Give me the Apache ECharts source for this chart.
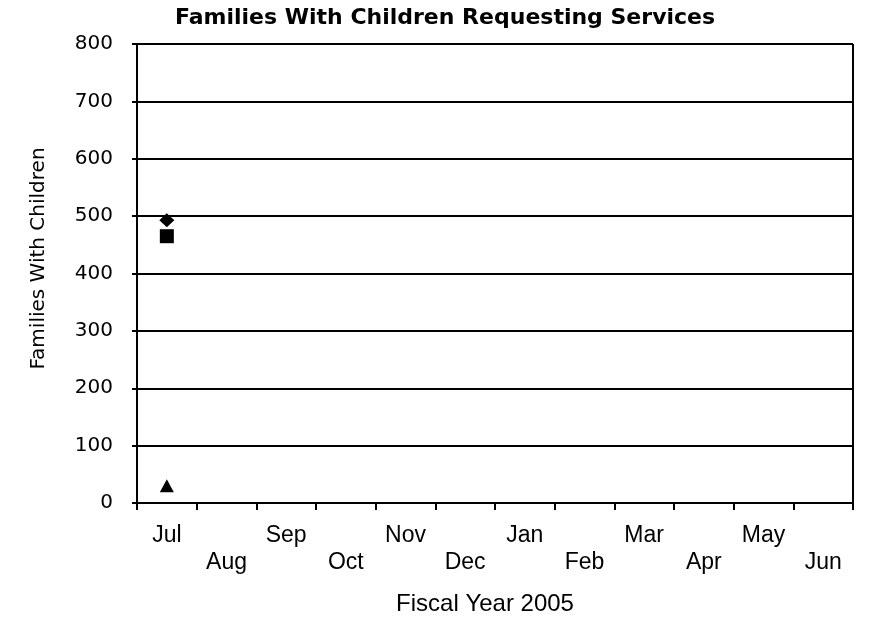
<!DOCTYPE html>
<html>
<head>
<meta charset="utf-8">
<script src="https://cdn.jsdelivr.net/npm/echarts@6/dist/echarts.min.js"></script>
<style>
  html, body { margin: 0; padding: 0; background: #fff; }
  #chart { width: 880px; height: 624px; }
</style>
</head>
<body>
<div id="chart"></div>
<script>
// Months of the fiscal year
const months = ['Jul', 'Aug', 'Sep', 'Oct', 'Nov', 'Dec', 'Jan', 'Feb', 'Mar', 'Apr', 'May', 'Jun'];
// Monthly counts per series (only July reported so far)
const diamondSeries = [493, null, null, null, null, null, null, null, null, null, null, null];
const squareSeries = [465, null, null, null, null, null, null, null, null, null, null, null];
const triangleSeries = [30, null, null, null, null, null, null, null, null, null, null, null];
// Y axis range
const yMin = 0, yMax = 800, yStep = 100;

const SANS = '"Liberation Sans", Arial, sans-serif';
const WIDE = '"DejaVu Sans", sans-serif';
const chart = echarts.init(document.getElementById('chart'), null, { renderer: 'canvas' });

function scatter(name, symbol, size, data) {
  return {
    name, type: 'scatter', symbol, symbolSize: size, data,
    itemStyle: { color: '#000', opacity: 1 }, z: 5
  };
}

chart.setOption({
  animation: false,
  backgroundColor: '#fff',
  title: {
    text: 'Families With Children Requesting Services',
    left: 445, top: 7, textAlign: 'center', padding: 0,
    textStyle: { fontFamily: WIDE, fontSize: 22, fontWeight: 'bold', color: '#000' }
  },
  grid: { left: 137, right: 27, top: 44, bottom: 121 },
  xAxis: {
    type: 'category',
    data: months,
    boundaryGap: true,
    name: 'Fiscal Year 2005',
    nameLocation: 'middle',
    nameGap: 89,
    nameTextStyle: { fontFamily: SANS, fontSize: 24, color: '#000', padding: [0, 20, 0, 0] },
    axisLine: { lineStyle: { color: '#000', width: 2 } },
    axisTick: { show: true, length: 7, lineStyle: { color: '#000', width: 2 } },
    axisLabel: {
      interval: 0,
      margin: 19,
      fontFamily: SANS, fontSize: 23, color: '#000', lineHeight: 27,
      formatter: (v, i) => (i % 2 ? '\n' + v : v)
    },
    splitLine: { show: false }
  },
  yAxis: {
    type: 'value',
    min: yMin, max: yMax, interval: yStep,
    name: 'Families With Children',
    nameLocation: 'middle',
    nameGap: 88,
    nameRotate: 90,
    nameTextStyle: { fontFamily: WIDE, fontSize: 20, color: '#000', padding: [0, 0, 0, 30] },
    axisLine: { show: true, lineStyle: { color: '#000', width: 2 } },
    axisTick: { show: true, length: 5, lineStyle: { color: '#000', width: 2 } },
    axisLabel: { margin: 24, fontFamily: WIDE, fontSize: 20, color: '#000' },
    splitLine: { show: true, lineStyle: { color: '#000', width: 2 } }
  },
  series: [
    scatter('Diamond', 'diamond', [15, 14], diamondSeries),
    scatter('Square', 'rect', 14, squareSeries),
    scatter('Triangle', 'triangle', [14, 13], triangleSeries)
  ]
});

// frame line on the right edge of the plot, running down past the axis like a tick
const rect = chart.getModel().getComponent('grid').coordinateSystem.getRect();
chart.setOption({
  graphic: [{
    type: 'line',
    shape: { x1: rect.x + rect.width, y1: rect.y, x2: rect.x + rect.width, y2: rect.y + rect.height + 7 },
    style: { stroke: '#000', lineWidth: 2 },
    z: 10
  }]
});
</script>
</body>
</html>
